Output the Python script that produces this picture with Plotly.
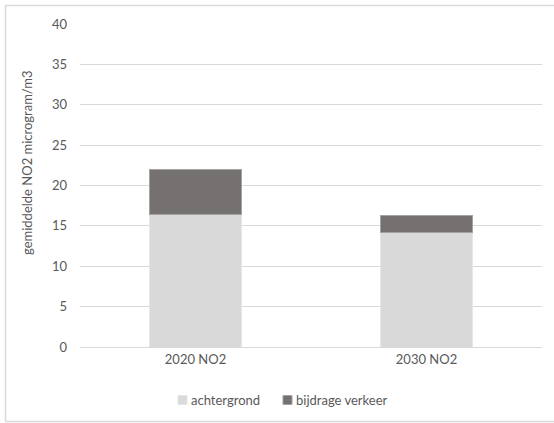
import plotly.graph_objects as go

categories = ["2020 NO2", "2030 NO2"]
achtergrond = [16.4, 14.2]
bijdrage_verkeer = [5.6, 2.1]
y_ticks = [0, 5, 10, 15, 20, 25, 30, 35, 40]

W, H = 554, 423
L, R, T, B = 80, 12, 24, 76
pw, ph = W - L - R, H - T - B

def px_x(x):
    return (x - L) / pw

def px_y(y):
    return (H - B - y) / ph

text_color = "#595959"
font_family = "Lato, 'Open Sans', sans-serif"
colors = {"achtergrond": "#d9d9d9", "bijdrage verkeer": "#767171"}
edges = {"achtergrond": "#e6e6e6", "bijdrage verkeer": "#a5a2a2"}

fig = go.Figure()
for name, vals in [("achtergrond", achtergrond), ("bijdrage verkeer", bijdrage_verkeer)]:
    fig.add_trace(go.Bar(
        x=categories, y=vals, name=name, showlegend=False,
        marker=dict(color=colors[name], line=dict(color=edges[name], width=1)),
    ))

# chart frame: left, top and bottom edges
frame = dict(color="#d9d9d9", width=1.5)
shapes = [
    dict(type="line", xref="paper", yref="paper",
         x0=px_x(5.5), x1=px_x(5.5), y0=px_y(5.5), y1=px_y(421.5), line=frame),
    dict(type="line", xref="paper", yref="paper",
         x0=px_x(5.5), x1=px_x(554), y0=px_y(5.5), y1=px_y(5.5), line=frame),
    dict(type="line", xref="paper", yref="paper",
         x0=px_x(5.5), x1=px_x(554), y0=px_y(421.5), y1=px_y(421.5), line=frame),
]
annotations = [dict(
    text="gemiddelde NO2 microgram/m3", textangle=-90,
    xref="paper", yref="paper", x=px_x(27), y=px_y(163),
    xanchor="center", yanchor="middle", showarrow=False,
    font=dict(size=13, color=text_color),
)]

# legend drawn as small swatches with labels below the axis
legend_items = [("achtergrond", 178), ("bijdrage verkeer", 283)]
for name, x0 in legend_items:
    shapes.append(dict(
        type="rect", xref="paper", yref="paper",
        x0=px_x(x0), x1=px_x(x0 + 9), y0=px_y(404.5), y1=px_y(395.5),
        fillcolor=colors[name], line=dict(color=edges[name], width=1),
    ))
    annotations.append(dict(
        text=name, xref="paper", yref="paper",
        x=px_x(x0 + 11), y=px_y(400), xanchor="left", yanchor="middle",
        showarrow=False, font=dict(size=13, color=text_color),
    ))

fig.update_layout(
    width=W, height=H,
    margin=dict(l=L, r=R, t=T, b=B),
    barmode="stack",
    bargap=0.6,
    plot_bgcolor="white",
    paper_bgcolor="white",
    font=dict(family=font_family, size=13, color=text_color),
    showlegend=False,
    xaxis=dict(
        showgrid=False, showline=True, linecolor="#d9d9d9", linewidth=1,
        ticks="", tickfont=dict(size=13, color=text_color),
    ),
    yaxis=dict(
        range=[0, 40], tickvals=y_ticks, showgrid=True,
        gridcolor="#d9d9d9", gridwidth=1, zeroline=False, showline=False,
        ticks="", ticklabelstandoff=12,
        tickfont=dict(size=13, color=text_color),
    ),
    annotations=annotations,
    shapes=shapes,
)

fig.write_html("out.html")
